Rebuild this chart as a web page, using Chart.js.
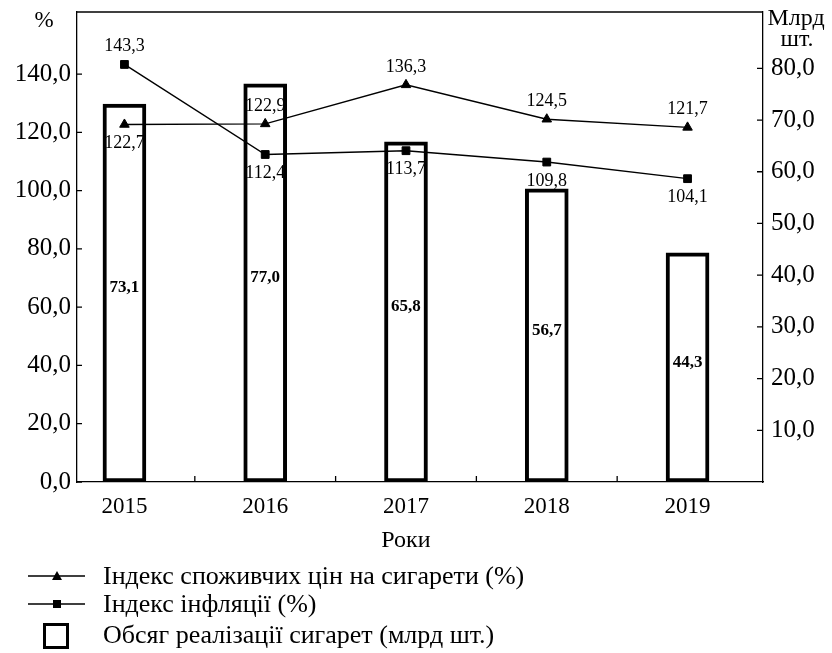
<!DOCTYPE html>
<html>
<head>
<meta charset="utf-8">
<script src="https://cdn.jsdelivr.net/npm/chart.js@4/dist/chart.umd.min.js"></script>
<style>
  body { margin: 0; background: #fff; }
  #wrap { width: 832px; height: 653px; }
</style>
</head>
<body>
<div id="wrap"><canvas id="chart" width="832" height="653"></canvas></div>
<script>
// chart data
const years = [2015, 2016, 2017, 2018, 2019];
const cigarettePriceIndex = [122.7, 122.9, 136.3, 124.5, 121.7];   // %
const inflationIndex = [143.3, 112.4, 113.7, 109.8, 104.1];        // %
const salesVolume = [73.1, 77.0, 65.8, 56.7, 44.3];                // млрд шт.
const leftTicks = [0, 20, 40, 60, 80, 100, 120, 140];
const rightTicks = [10, 20, 30, 40, 50, 60, 70, 80];

const labelCpi = 'Індекс споживчих цін на сигарети (%)';
const labelInfl = 'Індекс інфляції (%)';
const labelSales = 'Обсяг реалізації сигарет (млрд шт.)';

// where the value labels sit relative to the point
const cpiLabelPos = ['below', 'above', 'above', 'above', 'above'];
const inflLabelPos = ['above', 'below', 'below', 'below', 'below'];

const SERIF = '"Liberation Serif", "Times New Roman", serif';
const fmt = v => v.toFixed(1).replace('.', ',');

const pts = arr => arr.map((v, i) => ({ x: years[i], y: v }));

const noPad = s => { s.paddingTop = 0; s.paddingBottom = 0; s.paddingLeft = 0; s.paddingRight = 0; };

const extras = {
  id: 'extras',
  afterDatasetsDraw(chart) {
    const ctx = chart.ctx;
    const area = chart.chartArea;
    const xs = chart.scales.x, yl = chart.scales.y, yr = chart.scales.y1;
    ctx.save();

    // top border of the frame
    ctx.strokeStyle = '#000';
    ctx.lineWidth = 1.3;
    ctx.beginPath();
    ctx.moveTo(area.left, area.top);
    ctx.lineTo(area.right, area.top);
    ctx.stroke();

    // inner tick marks
    ctx.beginPath();
    for (let i = 1; i < years.length; i++) {
      const px = xs.getPixelForValue(years[i] - 0.5);
      ctx.moveTo(px, area.bottom);
      ctx.lineTo(px, area.bottom - 6);
    }
    leftTicks.forEach(t => {
      const py = yl.getPixelForValue(t);
      ctx.moveTo(area.left, py);
      ctx.lineTo(area.left + 5, py);
    });
    rightTicks.forEach(t => {
      const py = yr.getPixelForValue(t);
      ctx.moveTo(area.right, py);
      ctx.lineTo(area.right - 6, py);
    });
    ctx.stroke();

    // value labels for lines
    ctx.fillStyle = '#000';
    ctx.textAlign = 'center';
    ctx.textBaseline = 'middle';
    ctx.font = '18px ' + SERIF;
    const drawLineLabels = (dsIndex, values, pos) => {
      chart.getDatasetMeta(dsIndex).data.forEach((el, i) => {
        const dy = pos[i] === 'above' ? -18 : 19;
        ctx.fillText(fmt(values[i]), el.x, el.y + dy);
      });
    };
    drawLineLabels(0, cigarettePriceIndex, cpiLabelPos);
    drawLineLabels(1, inflationIndex, inflLabelPos);

    // bar labels
    ctx.font = 'bold 17px ' + SERIF;
    chart.getDatasetMeta(2).data.forEach((el, i) => {
      ctx.fillText(fmt(salesVolume[i]), el.x, (el.y + el.base) / 2 - 5);
    });

    // axis titles
    ctx.font = '23px ' + SERIF;
    ctx.fillText('%', 44, 21);
    ctx.font = '24px ' + SERIF;
    ctx.fillText('Млрд', 796, 19);
    ctx.fillText('шт.', 797, 40);
    ctx.fillText('Роки', xs.getPixelForValue(years[2]), 541);

    // legend
    ctx.textAlign = 'left';
    ctx.font = '26px ' + SERIF;
    const rows = [577, 605, 636];
    ctx.lineWidth = 1.4;
    ctx.beginPath();
    ctx.moveTo(28, rows[0] - 1); ctx.lineTo(85, rows[0] - 1);
    ctx.moveTo(28, rows[1] - 1); ctx.lineTo(85, rows[1] - 1);
    ctx.stroke();
    ctx.beginPath();
    ctx.moveTo(57, rows[0] - 6); ctx.lineTo(62, rows[0] + 3); ctx.lineTo(52, rows[0] + 3);
    ctx.closePath();
    ctx.fill();
    ctx.fillRect(53, rows[1] - 5, 8, 8);
    ctx.lineWidth = 3;
    ctx.strokeRect(44.5, rows[2] - 11.5, 23, 23);
    ctx.fillText(labelCpi, 103, rows[0]);
    ctx.fillText(labelInfl, 103, rows[1]);
    ctx.fillText(labelSales, 103, rows[2]);

    ctx.restore();
  }
};

new Chart(document.getElementById('chart'), {
  data: {
    datasets: [
      {
        type: 'line',
        label: labelCpi,
        data: pts(cigarettePriceIndex),
        yAxisID: 'y',
        borderColor: '#000',
        borderWidth: 1.4,
        pointStyle: 'triangle',
        pointRadius: 5.5,
        pointBackgroundColor: '#000',
        pointBorderColor: '#000',
        pointBorderWidth: 1,
        tension: 0,
        order: 0
      },
      {
        type: 'line',
        label: labelInfl,
        data: pts(inflationIndex),
        yAxisID: 'y',
        borderColor: '#000',
        borderWidth: 1.4,
        pointStyle: 'rect',
        pointRadius: 5.5,
        pointBackgroundColor: '#000',
        pointBorderColor: '#000',
        pointBorderWidth: 1,
        tension: 0,
        order: 0
      },
      {
        type: 'bar',
        label: labelSales,
        data: pts(salesVolume),
        yAxisID: 'y1',
        backgroundColor: '#fff',
        borderColor: '#000',
        borderWidth: 4,
        borderSkipped: false,
        barThickness: 43,
        order: 1
      }
    ]
  },
  options: {
    responsive: false,
    animation: false,
    events: [],
    layout: { padding: { top: 12, left: 0, right: 0, bottom: 0 } },
    plugins: { legend: { display: false }, tooltip: { enabled: false } },
    scales: {
      x: {
        type: 'linear',
        offset: false,
        min: years[0] - 0.337,
        max: years[years.length - 1] + 0.536,
        afterBuildTicks: s => { s.ticks = years.map(v => ({ value: v })); },
        afterFit: s => { s.height = 171; noPad(s); },
        ticks: {
          color: '#000',
          padding: 11,
          font: { family: SERIF, size: 23 },
          callback: v => String(v)
        },
        grid: { display: false, drawTicks: false, offset: false },
        border: { display: true, color: '#000', width: 1.3 }
      },
      y: {
        position: 'left',
        min: 0,
        max: 161.3,
        afterBuildTicks: s => { s.ticks = leftTicks.map(v => ({ value: v })); },
        afterFit: s => { s.width = 77; noPad(s); },
        ticks: {
          color: '#000',
          padding: 6,
          font: { family: SERIF, size: 25 },
          callback: v => fmt(v)
        },
        grid: { display: false, drawTicks: false },
        border: { display: true, color: '#000', width: 1.3 }
      },
      y1: {
        position: 'right',
        min: 0,
        max: 90.9,
        afterBuildTicks: s => { s.ticks = rightTicks.map(v => ({ value: v })); },
        afterFit: s => { s.width = 69; noPad(s); },
        ticks: {
          color: '#000',
          padding: 8,
          font: { family: SERIF, size: 25 },
          callback: v => fmt(v)
        },
        grid: { display: false, drawTicks: false },
        border: { display: true, color: '#000', width: 1.3 }
      }
    }
  },
  plugins: [extras]
});
</script>
</body>
</html>
